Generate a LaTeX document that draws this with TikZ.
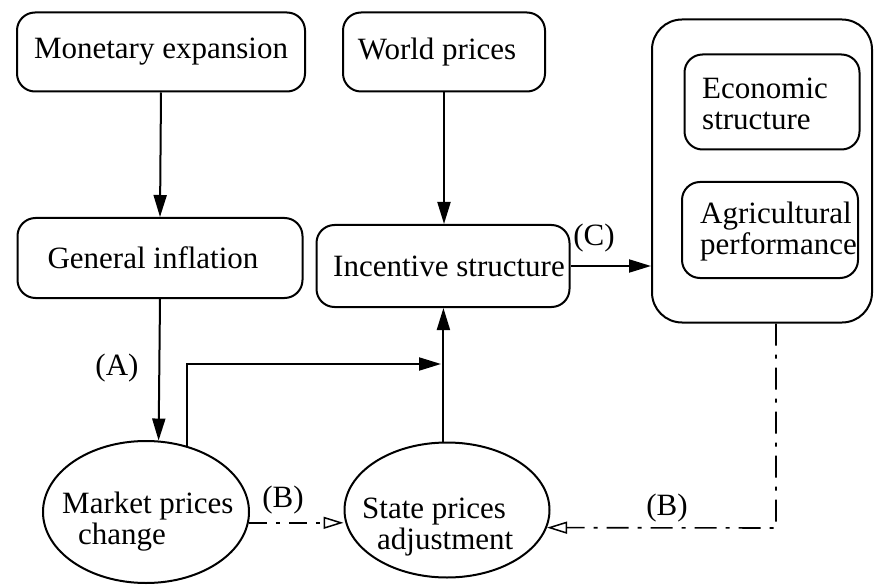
\documentclass[tikz,border=0pt]{standalone}
\usepackage{fontspec}
\setmainfont{Liberation Serif}
\newfontfamily\diagfont{Liberation Serif}
\usetikzlibrary{arrows.meta,shapes.geometric}

\tikzset{
  every node/.style={font=\diagfont\fontsize{31}{31}\selectfont},
  box/.style={draw, line width=2pt, rounded corners=18pt, inner sep=0pt},
  oval/.style={draw, ellipse, line width=2pt, inner sep=0pt},
  flow/.style={line width=2pt, -{Triangle[length=22pt,width=13pt]}},
  feed/.style={line width=1.6pt, -{Triangle[open,length=20pt,width=12pt,line width=1.5pt]}},
  lbl/.style={inner sep=0pt}
}

\begin{document}
\begin{tikzpicture}[x=1pt,y=-1pt]
\useasboundingbox (0,0) rectangle (880,585);

% top row
\node[box, minimum width=288pt, minimum height=79pt] (mon) at (161,52) {Monetary expansion};
\node[box, minimum width=202pt, minimum height=79pt] (world) at (444,52) {\hspace*{-14pt}World prices};

% middle row
\node[box, minimum width=285pt, minimum height=80pt] (gen) at (160,258) {\hspace*{-14pt}General inflation};
\node[box, minimum width=253pt, minimum height=82pt] (inc) at (443,266) {\hspace*{12pt}Incentive structure};

% outcome group
\node[box, rounded corners=30pt, minimum width=220pt, minimum height=303pt] (big) at (762,171) {};
\node[box, minimum width=175pt, minimum height=95pt] (eco) at (772,102) {};
\node[lbl, anchor=west, align=left] (ecot) at (702,104) {Economic\\structure};
\node[box, minimum width=176pt, minimum height=96pt] (agr) at (770,230) {};
\node[lbl, anchor=west, align=left] (agrt) at (700,232) {Agricultural\\performance};

% bottom row
\node[oval, minimum width=206pt, minimum height=142pt] (mkt) at (146,512) {};
\node[lbl, anchor=west, align=left] (mktt) at (62,522) {Market prices\\\hspace*{16pt}change};
\node[oval, minimum width=205pt, minimum height=135pt] (st) at (447,510) {};
\node[lbl, anchor=west, align=left] (stt) at (362,527) {State prices\\\hspace*{15pt}adjustment};

% connectors
\draw[flow] (mon.south) -- (gen.north);
\draw[flow] (world.south) -- (world.south |- inc.north);
\draw[flow] (gen.south) -- (mkt.80);
\coordinate (join) at (441,364);
\draw[flow] (mkt.58) |- (join);
\draw[flow] (st.93) -- (st.93 |- inc.south);
\draw[flow] (inc.east) -- (inc.east -| big.west);

\draw[feed, dash pattern=on 18pt off 9pt on 4pt off 9pt] (mkt.-6) -- (mkt.-6 -| st.west);
\coordinate (corner) at (776,528);
\draw[feed, dash pattern=on 22pt off 9pt on 4pt off 9pt] (big.south -| corner) -- (corner) -- (st.-10);

% labels
\node[lbl] (la) at (117,368) {(A)};
\node[lbl] (lb1) at (283,500) {(B)};
\node[lbl] (lc) at (594,238) {(C)};
\node[lbl] (lb2) at (667,508) {(B)};
\end{tikzpicture}
\end{document}
